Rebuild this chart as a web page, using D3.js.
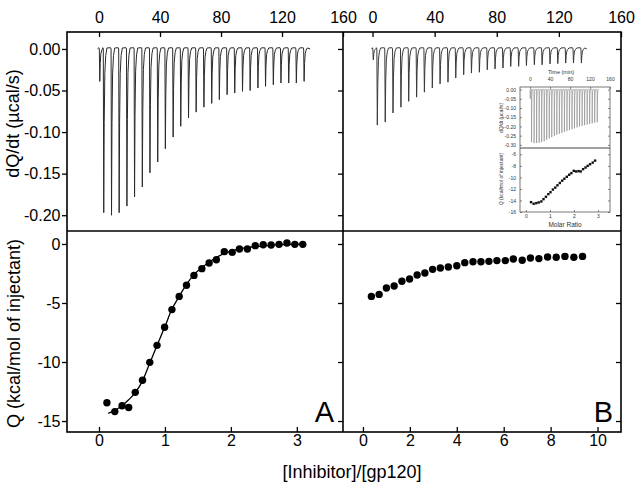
<!DOCTYPE html>
<html>
<head>
<meta charset="utf-8">
<script src="https://cdn.jsdelivr.net/npm/d3@7"></script>
<style>
  body { margin: 0; background: #fff; }
  svg text { font-family: Arial, "Liberation Sans", sans-serif; }
</style>
</head>
<body>
<div id="chart"></div>
<script>
// injection times (min), shared by both raw traces and the inset
const injTime = [0.2, 2.8, 7.9, 12.9, 18.0, 23.0, 28.1, 33.1, 38.2, 43.2, 48.3, 53.3, 58.4, 63.4,
  68.5, 73.6, 78.6, 83.7, 88.7, 93.8, 98.8, 103.9, 108.9, 114.0, 119.0, 124.1, 129.1, 134.2];

// peak heights of each injection (ucal/s)
const peakA = [-0.039, -0.197, -0.200, -0.197, -0.189, -0.178, -0.166, -0.149, -0.136, -0.120,
  -0.106, -0.093, -0.083, -0.076, -0.070, -0.0655, -0.061, -0.055, -0.053, -0.051, -0.050,
  -0.047, -0.045, -0.043, -0.041, -0.041, -0.041, -0.039];
const peakB = [-0.013, -0.0916, -0.088, -0.077, -0.070, -0.063, -0.058, -0.052, -0.047, -0.042,
  -0.040, -0.035, -0.031, -0.029, -0.028, -0.025, -0.024, -0.023, -0.021, -0.021, -0.020,
  -0.019, -0.019, -0.018, -0.0176, -0.017, -0.017, -0.017];
const peakInset = [-0.05, -0.285, -0.29, -0.29, -0.288, -0.285, -0.28, -0.272, -0.265, -0.258,
  -0.25, -0.245, -0.24, -0.235, -0.23, -0.225, -0.22, -0.215, -0.21, -0.205, -0.20, -0.197,
  -0.193, -0.19, -0.187, -0.183, -0.18, -0.177];

// integrated heats, panel A
const ratioA = [0.12, 0.24, 0.35, 0.45, 0.55, 0.66, 0.77, 0.88, 0.995, 1.106, 1.216, 1.327, 1.44,
  1.56, 1.67, 1.78, 1.90, 2.02, 2.13, 2.25, 2.37, 2.49, 2.61, 2.73, 2.85, 2.97, 3.09];
const heatA = [-13.45, -14.2, -13.7, -13.85, -12.57, -11.55, -10.03, -8.59, -7.06, -5.56, -4.44,
  -3.5, -2.66, -2.09, -1.61, -1.33, -0.65, -0.71, -0.42, -0.42, -0.14, -0.06, -0.08, -0.03,
  0.08, -0.03, -0.03];
const fitRatioA = [0.14, 0.3, 0.45, 0.55, 0.66, 0.77, 0.88, 1.0, 1.1, 1.22, 1.33, 1.44, 1.56,
  1.67, 1.78, 1.9, 2.0, 2.2, 2.5, 2.8, 3.1];
const fitHeatA = [-14.35, -13.9, -13.2, -12.6, -11.6, -10.1, -8.6, -7.0, -5.6, -4.4, -3.4, -2.6,
  -2.0, -1.55, -1.15, -0.8, -0.6, -0.35, -0.15, -0.05, 0.0];

// integrated heats, panel B
const ratioB = [0.36, 0.69, 1.0, 1.33, 1.66, 1.99, 2.31, 2.64, 2.97, 3.3, 3.64, 4.0, 4.34, 4.69,
  5.03, 5.37, 5.71, 6.07, 6.41, 6.79, 7.14, 7.5, 7.87, 8.24, 8.61, 8.99, 9.36];
const heatB = [-4.44, -4.27, -3.73, -3.56, -3.16, -2.97, -2.63, -2.46, -2.15, -2.03, -1.95, -1.84,
  -1.58, -1.5, -1.5, -1.47, -1.41, -1.41, -1.27, -1.38, -1.19, -1.24, -1.1, -1.13, -1.05, -1.13,
  -1.05];

// inset heats
const ratioInset = [0.21, 0.32, 0.43, 0.53, 0.64, 0.73, 0.83, 0.93, 1.02, 1.12, 1.22, 1.31, 1.41,
  1.51, 1.60, 1.70, 1.80, 1.89, 1.99, 2.09, 2.19, 2.28, 2.38, 2.48, 2.57, 2.67, 2.78, 2.88];
const heatInset = [-14.29, -14.57, -14.46, -14.34, -14.17, -13.77, -13.37, -12.91, -12.57, -12.11,
  -11.77, -11.37, -10.97, -10.57, -10.23, -9.89, -9.54, -9.26, -8.86, -8.97, -8.91, -8.97, -8.57,
  -8.29, -8.0, -7.71, -7.43, -7.09];

// tick values
const timeTicks = [0, 40, 80, 120, 160];
const powerTicks = [0, -0.05, -0.10, -0.15, -0.20];
const heatTicks = [0, -5, -10, -15];
const ratioTicksA = [0, 1, 2, 3];
const ratioTicksB = [0, 2, 4, 6, 8, 10];
const insetPowerTicks = [0, -0.05, -0.10, -0.15, -0.20, -0.25, -0.30];
const insetHeatTicks = [-6, -8, -10, -12, -14, -16];
const insetRatioTicks = [0, 1, 2, 3];

const W = 644, H = 493;
const f = {left: 67, mid: 343, right: 621, top: 32, split: 231, bottom: 432};

const svg = d3.select('#chart').append('svg').attr('width', W).attr('height', H);

const xTimeA = d3.scaleLinear().domain([-21, 160]).range([f.left, f.mid]);
const xTimeB = d3.scaleLinear().domain([-19, 160]).range([f.mid, f.right]);
const yPower = d3.scaleLinear().domain([-0.219, 0.0204]).range([f.split, f.top]);
const xRatioA = d3.scaleLinear().domain([-0.485, 3.7]).range([f.left, f.mid]);
const xRatioB = d3.scaleLinear().domain([-0.85, 11.0]).range([f.mid, f.right]);
const yHeat = d3.scaleLinear().domain([-15.93, 1.1]).range([f.bottom, f.split]);

const plain = d => String(d);

// spike shape built from each injection's time and peak value
function tracePoints(times, peaks, start, end) {
  const pts = [[start, 0]];
  times.forEach((t, i) => {
    const d = peaks[i];
    pts.push([t - 0.3, 0.0015], [t, 0], [t + 0.3, d], [t + 0.6, d * 0.45], [t + 1.0, d * 0.15],
      [t + 1.6, d * 0.04], [t + 2.4, 0.0012]);
  });
  pts.push([end, 0]);
  return pts;
}

function styleAxis(g, size) {
  g.select('.domain').remove();
  g.selectAll('.tick line').attr('stroke', '#000').attr('stroke-width', 1.3);
  g.selectAll('.tick text').attr('font-size', size).attr('fill', '#000');
}

// axes
svg.append('g').attr('transform', `translate(0,${f.top})`)
  .call(d3.axisTop(xTimeA).tickValues(timeTicks).tickSize(-5).tickPadding(9.5).tickFormat(plain))
  .call(g => styleAxis(g, 16));
svg.append('g').attr('transform', `translate(0,${f.top})`)
  .call(d3.axisTop(xTimeB).tickValues(timeTicks).tickSize(-5).tickPadding(9.5).tickFormat(plain))
  .call(g => styleAxis(g, 16));

svg.append('g').attr('transform', `translate(${f.left},0)`)
  .call(d3.axisLeft(yPower).tickValues(powerTicks).tickSize(5).tickPadding(1.5)
    .tickFormat(d => d.toFixed(2)))
  .call(g => styleAxis(g, 16));
svg.append('g').attr('transform', `translate(${f.left},0)`)
  .call(d3.axisLeft(yHeat).tickValues(heatTicks).tickSize(5).tickPadding(1.5).tickFormat(plain))
  .call(g => styleAxis(g, 16));

[f.mid, f.right].forEach(xr => {
  svg.append('g').attr('transform', `translate(${xr},0)`)
    .call(d3.axisRight(yPower).tickValues(powerTicks).tickSize(-5).tickFormat(''))
    .call(g => styleAxis(g, 16));
  svg.append('g').attr('transform', `translate(${xr},0)`)
    .call(d3.axisRight(yHeat).tickValues(heatTicks).tickSize(-5).tickFormat(''))
    .call(g => styleAxis(g, 16));
});

svg.append('g').attr('transform', `translate(0,${f.bottom})`)
  .call(d3.axisBottom(xRatioA).tickValues(ratioTicksA).tickSize(-5).tickPadding(3).tickFormat(plain))
  .call(g => styleAxis(g, 16));
svg.append('g').attr('transform', `translate(0,${f.bottom})`)
  .call(d3.axisBottom(xRatioB).tickValues(ratioTicksB).tickSize(-5).tickPadding(3).tickFormat(plain))
  .call(g => styleAxis(g, 16));

// raw traces
const traceA = d3.line().x(d => xTimeA(d[0])).y(d => yPower(d[1]));
const traceB = d3.line().x(d => xTimeB(d[0])).y(d => yPower(d[1]));

svg.append('path')
  .datum(tracePoints(injTime, peakA, -1, 138.5))
  .attr('fill', 'none').attr('stroke', '#2a2a2a').attr('stroke-width', 1)
  .attr('stroke-linejoin', 'round')
  .attr('d', traceA);
svg.append('path')
  .datum(tracePoints(injTime, peakB, -0.5, 138))
  .attr('fill', 'none').attr('stroke', '#3a3a3a').attr('stroke-width', 1)
  .attr('stroke-linejoin', 'round')
  .attr('d', traceB);

// fit curve and heats, panel A
const fitLine = d3.line().curve(d3.curveMonotoneX)
  .x(d => xRatioA(d[0])).y(d => yHeat(d[1]));
svg.append('path')
  .datum(fitRatioA.map((r, i) => [r, fitHeatA[i]]))
  .attr('fill', 'none').attr('stroke', '#000').attr('stroke-width', 1.3)
  .attr('d', fitLine);

svg.append('g').selectAll('circle')
  .data(ratioA.map((r, i) => [r, heatA[i]]))
  .join('circle')
  .attr('cx', d => xRatioA(d[0])).attr('cy', d => yHeat(d[1]))
  .attr('r', 3.7).attr('fill', '#000');

svg.append('g').selectAll('circle')
  .data(ratioB.map((r, i) => [r, heatB[i]]))
  .join('circle')
  .attr('cx', d => xRatioB(d[0])).attr('cy', d => yHeat(d[1]))
  .attr('r', 3.7).attr('fill', '#000');

// frame
svg.append('rect')
  .attr('x', f.left).attr('y', f.top)
  .attr('width', f.right - f.left).attr('height', f.bottom - f.top)
  .attr('fill', 'none').attr('stroke', '#000').attr('stroke-width', 1.6);
svg.append('line')
  .attr('x1', f.mid).attr('x2', f.mid).attr('y1', f.top).attr('y2', f.bottom)
  .attr('stroke', '#000').attr('stroke-width', 1.6);
svg.append('line')
  .attr('x1', f.left).attr('x2', f.right).attr('y1', f.split).attr('y2', f.split)
  .attr('stroke', '#000').attr('stroke-width', 1.6);

// titles
svg.append('text')
  .attr('transform', 'translate(19,123.5) rotate(-90)')
  .attr('text-anchor', 'middle').attr('font-size', 18)
  .text('dQ/dt (µcal/s)');
svg.append('text')
  .attr('transform', 'translate(19.5,333.5) rotate(-90)')
  .attr('text-anchor', 'middle').attr('font-size', 18)
  .text('Q (kcal/mol of injectant)');
svg.append('text')
  .attr('x', 352).attr('y', 478)
  .attr('text-anchor', 'middle').attr('font-size', 18)
  .text('[Inhibitor]/[gp120]');
svg.append('text')
  .attr('x', 334).attr('y', 422)
  .attr('text-anchor', 'end').attr('font-size', 29)
  .text('A');
svg.append('text')
  .attr('x', 613).attr('y', 422)
  .attr('text-anchor', 'end').attr('font-size', 29)
  .text('B');

// inset
const ins = {left: 520, right: 610, top: 87, split: 148, bottom: 212};
const inset = svg.append('g');

const xTimeIn = d3.scaleLinear().domain([-20, 160]).range([ins.left, ins.right]);
const yPowerIn = d3.scaleLinear().domain([-0.317, 0.014]).range([ins.split, ins.top]);
const xRatioIn = d3.scaleLinear().domain([-0.25, 3.5]).range([ins.left, ins.right]);
const yHeatIn = d3.scaleLinear().domain([-16, -4.9]).range([ins.bottom, ins.split]);

function styleInset(g) {
  g.select('.domain').remove();
  g.selectAll('.tick line').attr('stroke', '#555').attr('stroke-width', 0.7);
  g.selectAll('.tick text').attr('font-size', 5).attr('fill', '#333');
}

inset.append('g').attr('transform', `translate(0,${ins.top})`)
  .call(d3.axisTop(xTimeIn).tickValues(timeTicks).tickSize(-2).tickPadding(6).tickFormat(plain))
  .call(styleInset);
inset.append('g').attr('transform', `translate(${ins.left},0)`)
  .call(d3.axisLeft(yPowerIn).tickValues(insetPowerTicks).tickSize(-2).tickPadding(4)
    .tickFormat(d => d.toFixed(2)))
  .call(styleInset);
inset.append('g').attr('transform', `translate(${ins.left},0)`)
  .call(d3.axisLeft(yHeatIn).tickValues(insetHeatTicks).tickSize(-2).tickPadding(4).tickFormat(plain))
  .call(styleInset);
inset.append('g').attr('transform', `translate(0,${ins.bottom})`)
  .call(d3.axisBottom(xRatioIn).tickValues(insetRatioTicks).tickSize(-2).tickPadding(2).tickFormat(plain))
  .call(styleInset);
inset.append('g').attr('transform', `translate(${ins.right},0)`)
  .call(d3.axisRight(yPowerIn).tickValues(insetPowerTicks).tickSize(-2).tickFormat(''))
  .call(styleInset);
inset.append('g').attr('transform', `translate(${ins.right},0)`)
  .call(d3.axisRight(yHeatIn).tickValues(insetHeatTicks).tickSize(-2).tickFormat(''))
  .call(styleInset);

const traceIn = d3.line().x(d => xTimeIn(d[0])).y(d => yPowerIn(d[1]));
inset.append('path')
  .datum(tracePoints(injTime, peakInset, 0, 136))
  .attr('fill', 'none').attr('stroke', '#888').attr('stroke-width', 0.6)
  .attr('d', traceIn);

inset.append('g').selectAll('rect')
  .data(ratioInset.map((r, i) => [r, heatInset[i]]))
  .join('rect')
  .attr('x', d => xRatioIn(d[0]) - 1.2).attr('y', d => yHeatIn(d[1]) - 1.2)
  .attr('width', 2.4).attr('height', 2.4).attr('fill', '#111');

inset.append('rect')
  .attr('x', ins.left).attr('y', ins.top)
  .attr('width', ins.right - ins.left).attr('height', ins.bottom - ins.top)
  .attr('fill', 'none').attr('stroke', '#555').attr('stroke-width', 0.8);
inset.append('line')
  .attr('x1', ins.left).attr('x2', ins.right).attr('y1', ins.split).attr('y2', ins.split)
  .attr('stroke', '#444').attr('stroke-width', 1.2);

inset.append('text')
  .attr('x', 561).attr('y', 74).attr('text-anchor', 'middle')
  .attr('font-size', 5.5).attr('fill', '#333').text('Time (min)');
inset.append('text')
  .attr('x', 565).attr('y', 226.5).attr('text-anchor', 'middle')
  .attr('font-size', 6.5).attr('fill', '#333').text('Molar Ratio');
inset.append('text')
  .attr('transform', 'translate(503,118) rotate(-90)').attr('text-anchor', 'middle')
  .attr('font-size', 5).attr('fill', '#333').text('dQ/dt (µcal/s)');
inset.append('text')
  .attr('transform', 'translate(503,179) rotate(-90)').attr('text-anchor', 'middle')
  .attr('font-size', 5).attr('fill', '#333').text('Q (kcal/mol of injectant)');
</script>
</body>
</html>
